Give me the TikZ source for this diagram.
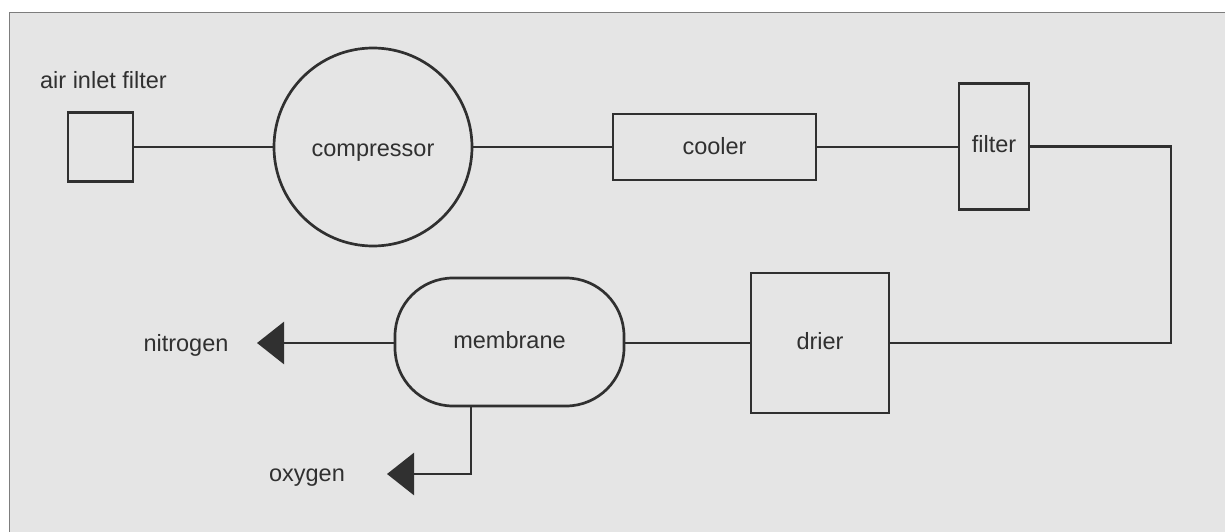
\documentclass[tikz,border=0pt]{standalone}
\usepackage{fontspec}
\setmainfont{Liberation Sans}
\usetikzlibrary{arrows.meta}
\definecolor{paper}{RGB}{229,229,229}
\definecolor{ink}{RGB}{48,48,48}
\definecolor{rule}{RGB}{125,125,125}

\begin{document}
\begin{tikzpicture}[x=1pt,y=-1pt,
  unit/.style={draw=ink, line width=2.7pt, inner sep=0pt, text=ink,
               text height=17pt, text depth=5pt,
               font=\fontsize{23.5}{28}\selectfont},
  tag/.style={inner sep=0pt, text=ink, text height=17pt, text depth=5pt,
              font=\fontsize{23.5}{28}\selectfont},
  pipe/.style={draw=ink, line width=2.7pt},
  outlet/.style={pipe, -{Triangle[length=27pt,width=42pt]}}]
  \useasboundingbox (0,0) rectangle (1225,532);
  % sheet and its frame
  \fill[white] (0,0) rectangle (1225,532);
  \fill[paper] (9.5,12.5) rectangle (1225,532);
  \draw[rule, line width=1.5pt] (9.5,532) -- (9.5,12.5) -- (1225,12.5);

  % upper row of units
  \node[unit, minimum width=65pt, minimum height=69pt] (aif) at (100.5,147) {};
  \node[tag] (aiflabel) at (103.5,83) {air inlet filter};
  \node[unit, circle, minimum size=198pt, text height=20pt, text depth=2pt] (comp) at (373,147) {compressor};
  \node[unit, minimum width=203pt, minimum height=66pt, text height=18pt, text depth=4pt] (cool) at (714.5,147) {cooler};
  \node[unit, minimum width=70pt, minimum height=126pt] (filt) at (994,146.5) {filter};

  % lower row of units
  \node[unit, minimum width=138pt, minimum height=140pt] (drier) at (820,343) {drier};
  \node[unit, rounded corners=58pt, minimum width=229pt, minimum height=128pt] (memb) at (509.5,342) {membrane};

  % outlet labels
  \node[tag] (n2) at (186,345) {nitrogen};
  \node[tag] (o2) at (307,475) {oxygen};

  % free ends and bends of the piping
  \coordinate (bend) at (1171,146.5);
  \coordinate (ntip) at (257,343);
  \coordinate (obend) at (471,474);
  \coordinate (otip) at (387,474);

  % piping
  \draw[pipe] (aif.east) -- (comp.west);
  \draw[pipe] (comp.east) -- (cool.west);
  \draw[pipe] (cool.east) -- (filt.west |- cool.east);
  \draw[pipe] (filt.east) -- (bend) |- (drier.east);
  \draw[pipe] (drier.west) -- (memb.east |- drier.west);
  \draw[outlet] (memb.west |- ntip) -- (ntip);
  \draw[outlet] (memb.south -| obend) -- (obend) -- (otip);
\end{tikzpicture}
\end{document}
